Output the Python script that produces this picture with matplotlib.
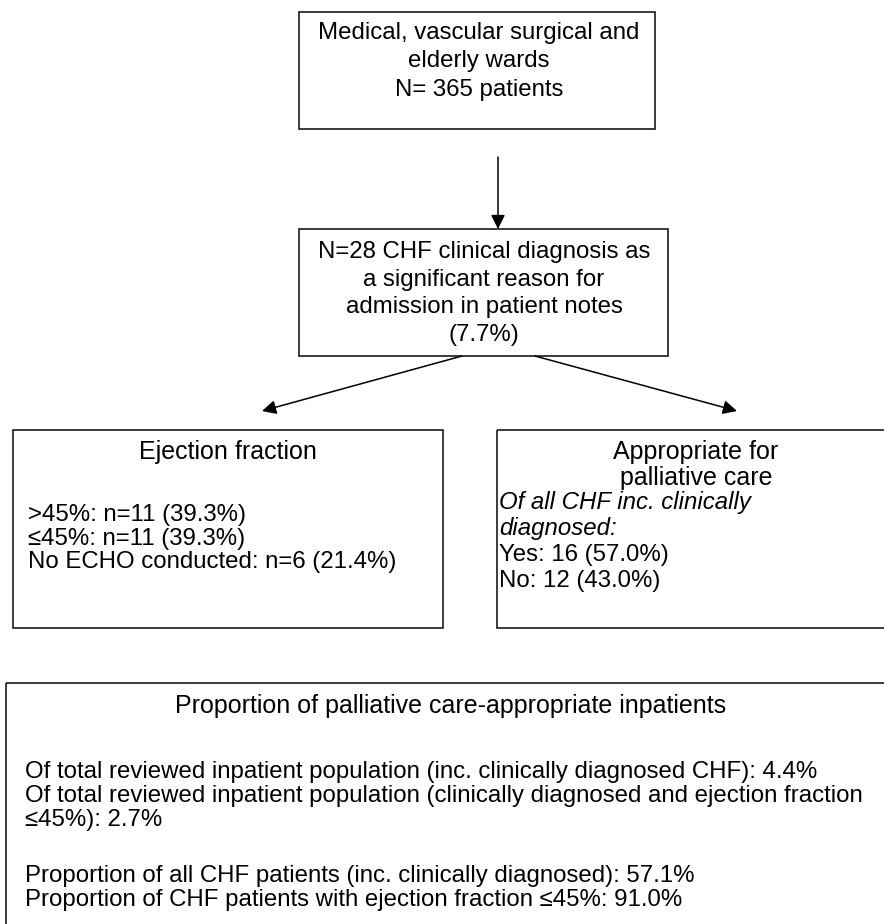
import matplotlib
matplotlib.use("Agg")
import matplotlib.pyplot as plt
from matplotlib.patches import Rectangle, FancyArrowPatch

# ---- content ----
top_lines = ["Medical, vascular surgical and", "elderly wards", "N= 365 patients"]
mid_lines = ["N=28 CHF clinical diagnosis as", "a significant reason for",
             "admission in patient notes", "(7.7%)"]
ef_title = "Ejection fraction"
ef_lines = [">45%: n=11 (39.3%)", "\u226445%: n=11 (39.3%)", "No ECHO conducted: n=6 (21.4%)"]
pc_title = ["Appropriate for", "palliative care"]
pc_italic = ["Of all CHF inc. clinically", "diagnosed:"]
pc_lines = ["Yes: 16 (57.0%)", "No: 12 (43.0%)"]
bot_title = "Proportion of palliative care-appropriate inpatients"
bot_lines = ["Of total reviewed inpatient population (inc. clinically diagnosed CHF): 4.4%",
             "Of total reviewed inpatient population (clinically diagnosed and ejection fraction",
             "\u226445%): 2.7%",
             "",
             "Proportion of all CHF patients (inc. clinically diagnosed): 57.1%",
             "Proportion of CHF patients with ejection fraction \u226445%: 91.0%"]

W, H = 884, 924
fig = plt.figure(figsize=(W / 100, H / 100), dpi=100)
ax = fig.add_axes([0, 0, 1, 1])
ax.set_xlim(0, W)
ax.set_ylim(H, 0)
ax.axis("off")

FONT = ["Liberation Sans", "DejaVu Sans"]
FS = 17.3
HFS = 18.0
LC = "#1a1a1a"
LW = 1.2

def box(x0, y0, x1, y1):
    ax.add_patch(Rectangle((x0, y0), x1 - x0, y1 - y0, fill=False, ec=LC, lw=LW))

def arrow(p0, p1):
    ax.add_patch(FancyArrowPatch(p0, p1, arrowstyle="-|>", mutation_scale=21,
                                 color="black", lw=1.1, shrinkA=0, shrinkB=0))

def txt(x, y, s, ha="left", style="normal", fs=FS):
    ax.text(x, y, s, ha=ha, va="center", fontsize=fs, family=FONT, style=style, color="black")

# boxes
box(299, 12, 655, 129)
box(299, 229, 668, 356)
box(13, 430, 443, 628)
box(497, 430, 910, 628)
box(6, 683, 910, 960)

# arrows
arrow((498, 157), (498, 229))
arrow((462, 356), (262, 411))
arrow((535, 356), (737, 411))

# top box
for i, s in enumerate(top_lines):
    txt(479, 33 + i * 28.5, s, ha="center")
# middle box
for i, s in enumerate(mid_lines):
    txt(484, 252 + i * 27.7, s, ha="center")
# ejection fraction box
txt(228, 452, ef_title, ha="center", fs=HFS)
for i, s in enumerate(ef_lines):
    txt(28, 515 + i * 23.5, s)
# palliative care box
for i, s in enumerate(pc_title):
    txt(696, 452 + i * 25.5, s, ha="center", fs=HFS)
for i, s in enumerate(pc_italic):
    txt(499, 503 + i * 25.5, s, style="italic")
for i, s in enumerate(pc_lines):
    txt(499, 555 + i * 25.5, s)
# bottom box
txt(451, 706, bot_title, ha="center", fs=HFS)
ys = [772, 796, 820, 848, 876, 900]
for y, s in zip(ys, bot_lines):
    if s:
        txt(25, y, s)

fig.savefig("out.png", dpi=100, facecolor="white")
